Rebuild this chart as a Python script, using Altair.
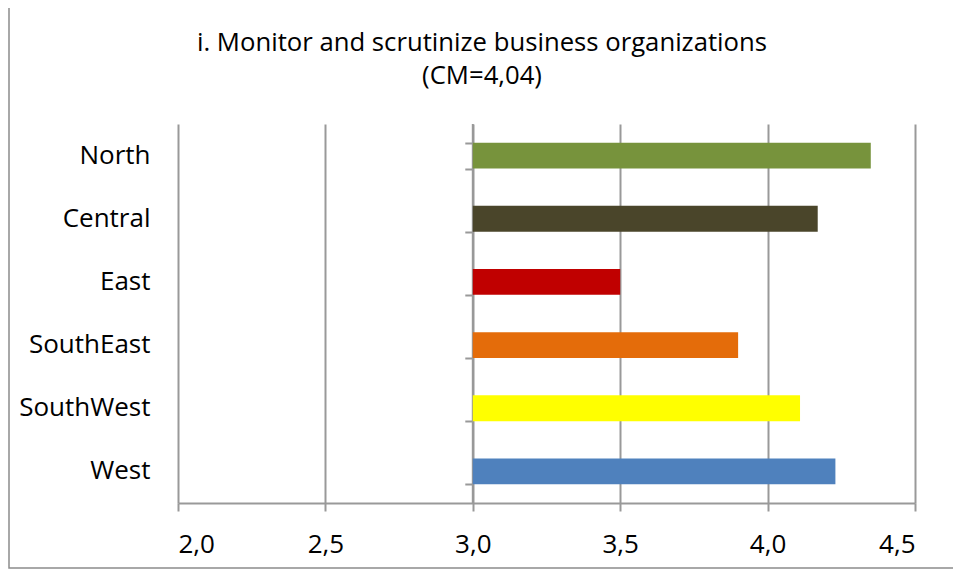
import altair as alt
import pandas as pd

regions = ["North ", "Central", "East", "SouthEast", "SouthWest", "West"]
values = [4.35, 4.17, 3.50, 3.90, 4.11, 4.23]
colors = ["#77933C", "#4A452A", "#C00000", "#E46C0A", "#FFFF00", "#4F81BD"]
x_ticks = [2.0, 2.5, 3.0, 3.5, 4.0, 4.5]
axis_cross = 3.0
title_lines = ["i. Monitor and scrutinize business organizations", "(CM=4,04)"]

df = pd.DataFrame({"region": regions, "value": values, "color": colors})
one_row = pd.DataFrame({"k": [0]})

FONT = "Open Sans"
GRID = "#999999"
W, H = 737, 379

yscale = alt.Scale(domain=regions, paddingInner=0.59, paddingOuter=0.295)
xscale = alt.Scale(domain=[2.0, 4.5], nice=False, zero=False)

xaxis = alt.Axis(
    values=x_ticks,
    labelExpr="replace(format(datum.value, '.1f'), '.', ',')",
    title=None,
    grid=True,
    gridColor=GRID,
    gridWidth=2,
    domainColor=GRID,
    domainWidth=2,
    tickColor=GRID,
    tickWidth=2,
    tickSize=8,
    labelPadding=20,
    labelFont=FONT,
    labelFontSize=26,
    labelColor="black",
)

bars = alt.Chart(df).mark_bar().encode(
    y=alt.Y("region:N", scale=yscale, sort=regions,
            axis=alt.Axis(orient="left", title=None, domain=False, ticks=False, tickSize=0,
                          labelPadding=28, labelFont=FONT, labelFontSize=26,
                          labelColor="black", labelAlign="right")),
    x=alt.X("value:Q", scale=xscale, axis=xaxis),
    x2=alt.datum(axis_cross),
    color=alt.Color("color:N", scale=None, legend=None),
)

cross_line = alt.Chart(one_row).mark_rule(color=GRID, strokeWidth=2).encode(
    x=alt.datum(axis_cross, scale=xscale),
)

tick_layer = alt.Chart(df).mark_point(opacity=0).encode(
    y=alt.Y("region:N", scale=yscale, sort=regions,
            axis=alt.Axis(orient="left", title=None, domain=False, labels=False,
                          ticks=True, tickBand="extent", tickSize=8, tickColor=GRID,
                          tickWidth=2, offset=-W * (axis_cross - 2.0) / 2.5)),
    x=alt.datum(axis_cross, scale=xscale),
)

title = alt.Chart(one_row).mark_text(
    text=title_lines, font=FONT, fontSize=25.7, fontWeight="normal", color="black",
    align="center", baseline="alphabetic", lineHeight=33,
).encode(x=alt.value(304), y=alt.value(-73))

border = alt.Chart(one_row).mark_rect(fill=None, stroke="#8C8C8C", strokeWidth=1.5).encode(
    x=alt.value(-169), x2=alt.value(W + 60),
    y=alt.value(-130), y2=alt.value(H + 65),
)

chart = alt.layer(cross_line, bars, tick_layer, title, border).resolve_axis(
    y="independent"
).properties(
    width=W,
    height=H,
    autosize=alt.AutoSizeParams(type="none"),
    padding={"left": 170, "top": 116, "right": 38, "bottom": 66},
    background="white",
).configure_view(stroke=None)

chart.save("out.html", embed_options={"renderer": "svg", "actions": False})
